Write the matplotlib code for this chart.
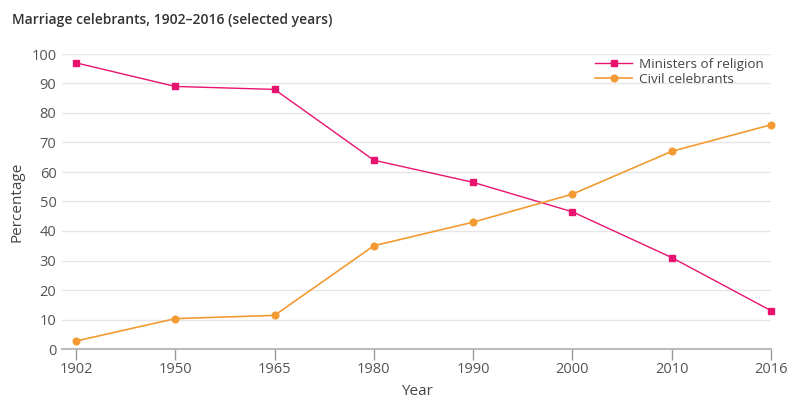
import matplotlib
matplotlib.use("Agg")
import matplotlib.pyplot as plt

years = ["1902", "1950", "1965", "1980", "1990", "2000", "2010", "2016"]
ministers = [97, 89, 88, 64, 56.5, 46.5, 31, 13]
civil = [2.7, 10.3, 11.4, 35, 43, 52.5, 67, 76]
yticks = [0, 10, 20, 30, 40, 50, 60, 70, 80, 90, 100]

plt.rcParams['font.family'] = ['Open Sans', 'DejaVu Sans']

PINK = "#E8136E"
ORANGE = "#F39B32"
TXT = "#555555"

fig = plt.figure(figsize=(8.0, 4.11), dpi=100)
W, H = 800, 411
left, right, bottom, top = 62, 771, 349, 54
ax = fig.add_axes([left / W, 1 - bottom / H, (right - left) / W, (bottom - top) / H])

x = list(range(len(years)))
ax.plot(x, ministers, color=PINK, lw=1.0, marker="s", ms=4.5, label="Ministers of religion", zorder=3, clip_on=False)
ax.plot(x, civil, color=ORANGE, lw=1.2, marker="o", ms=4.8, label="Civil celebrants", zorder=3, clip_on=False)

ax.set_xlim(-14 / 99.3, 7)
ax.set_ylim(0, 100)
ax.set_xticks(x)
ax.set_xticklabels(years)
ax.set_yticks(yticks)

for s in ["top", "right", "left"]:
    ax.spines[s].set_visible(False)
ax.spines["bottom"].set_color("#BBBBBB")
ax.spines["bottom"].set_linewidth(1.5)
ax.grid(axis="y", color="#E6E6E6", lw=1.0)
ax.set_axisbelow(True)
ax.tick_params(axis="x", length=8, width=1.0, color="#999999", labelsize=10.5, labelcolor=TXT, pad=1.5)
ax.tick_params(axis="y", length=0, labelsize=10.5, labelcolor=TXT, pad=4)

ax.set_xlabel("Year", fontsize=11, color="#444444", labelpad=5)
ax.set_ylabel("Percentage", fontsize=11, color="#444444", labelpad=5)

fig.text(12 / W, 1 - 20 / H, "Marriage celebrants, 1902\u20132016 (selected years)",
         fontsize=10, color="#333333", fontweight="semibold", va="center", ha="left")

leg = ax.legend(loc="upper left", bbox_to_anchor=((595 - left) / (right - left), (bottom - 58) / (bottom - top)),
                frameon=False, fontsize=9.7, handlelength=2.75, handletextpad=0.5,
                labelspacing=0.12, borderaxespad=0.0, borderpad=0.0)
for t in leg.get_texts():
    t.set_color("#444444")

fig.savefig("out.png", dpi=100)
